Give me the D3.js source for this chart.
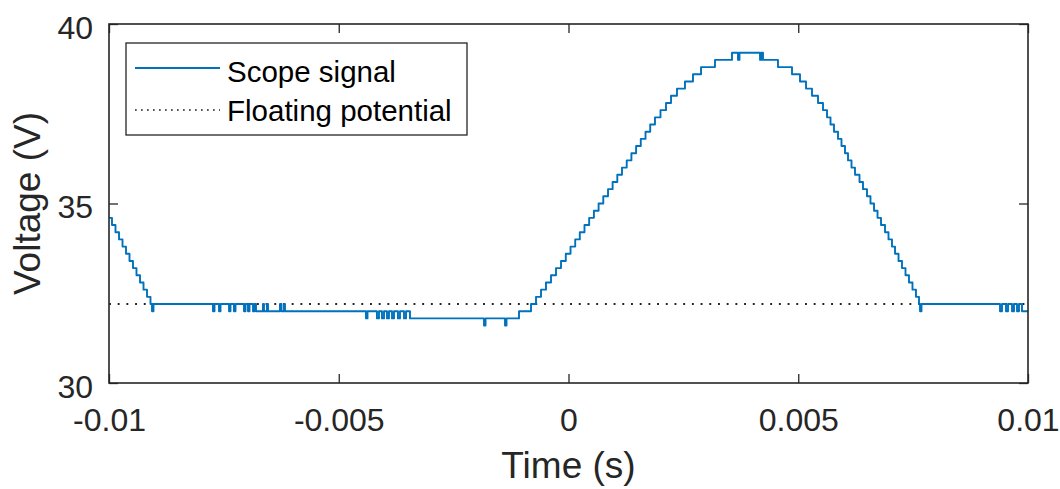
<!DOCTYPE html>
<html>
<head>
<meta charset="utf-8">
<script src="https://cdn.jsdelivr.net/npm/d3@7"></script>
<style>
  body { margin: 0; background: #fff; }
  text { font-family: "Liberation Sans", Arial, Helvetica, sans-serif; }
</style>
</head>
<body>
<svg id="chart" width="1060" height="489"></svg>
<script>
// Axis ticks and labels
const xTicks = [-0.01, -0.005, 0, 0.005, 0.01];
const xTickLabels = ["-0.01", "-0.005", "0", "0.005", "0.01"];
const yTicks = [30, 35, 40];
const yTickLabels = ["30", "35", "40"];

// Floating potential level (V)
const floatingPotential = 32.2;

// Scope trace: level changes of the digitised signal (time in ms, voltage in V)
const scopeTimeMs = [
  -10.000, -9.935, -9.859, -9.782, -9.706, -9.630, -9.554, -9.478, -9.402, -9.325,
  -9.249, -9.173, -9.097, -9.064, -9.032,
  -7.737, -7.704, -7.606, -7.573, -7.388, -7.356, -7.280, -7.247, -7.062, -7.029,
  -6.975, -6.942, -6.866, -6.834, -6.801, -6.649, -6.627, -6.562, -6.540, -6.279,
  -6.246, -6.192, -6.170,
  -4.407, -4.374, -4.168, -4.124, -4.059, -4.015, -3.950, -3.907, -3.841, -3.798,
  -3.711, -3.667, -3.580, -3.536, -3.450,
  -1.839, -1.806, -1.382, -1.349, -1.077,
  -0.816, -0.707, -0.598, -0.490, -0.381, -0.272, -0.163, -0.059, 0.044, 0.146,
  0.246, 0.348, 0.450, 0.553, 0.655, 0.757, 0.860, 0.960, 1.062, 1.164,
  1.267, 1.369, 1.471, 1.573, 1.676, 1.778, 1.882, 2.002, 2.122, 2.231,
  2.361, 2.535, 2.709, 2.884, 3.188, 3.558, 3.689, 3.721, 4.168, 4.200,
  4.233, 4.559, 4.864, 5.038, 5.169, 5.299, 5.430, 5.539, 5.626, 5.702,
  5.778, 5.865, 5.941, 6.017, 6.083, 6.159, 6.235, 6.333, 6.409, 6.496,
  6.572, 6.649, 6.725, 6.801, 6.888, 6.964, 7.040, 7.106, 7.182, 7.258,
  7.334, 7.410, 7.486, 7.562, 7.628, 7.650, 7.682,
  9.391, 9.434, 9.521, 9.565, 9.652, 9.695, 9.761, 9.804, 9.869, 10.000
];
const scopeVolts = [
  34.6, 34.4, 34.2, 34.0, 33.8, 33.6, 33.4, 33.2, 33.0, 32.8,
  32.6, 32.4, 32.2, 32.0, 32.2,
  32.0, 32.2, 32.0, 32.2, 32.0, 32.2, 32.0, 32.2, 32.0, 32.2,
  32.0, 32.2, 32.0, 32.2, 32.0, 32.2, 32.0, 32.2, 32.0, 32.2,
  32.0, 32.2, 32.0,
  31.8, 32.0, 31.8, 32.0, 31.8, 32.0, 31.8, 32.0, 31.8, 32.0,
  31.8, 32.0, 31.8, 32.0, 31.8,
  31.6, 31.8, 31.6, 31.8, 32.0,
  32.2, 32.4, 32.6, 32.8, 33.0, 33.2, 33.4, 33.6, 33.8, 34.0,
  34.2, 34.4, 34.6, 34.8, 35.0, 35.2, 35.4, 35.6, 35.8, 36.0,
  36.2, 36.4, 36.6, 36.8, 37.0, 37.2, 37.4, 37.6, 37.8, 38.0,
  38.2, 38.4, 38.6, 38.8, 39.0, 39.2, 39.0, 39.2, 39.0, 39.2,
  39.0, 38.8, 38.6, 38.4, 38.2, 38.0, 37.8, 37.6, 37.4, 37.2,
  37.0, 36.8, 36.6, 36.4, 36.2, 36.0, 35.8, 35.6, 35.4, 35.2,
  35.0, 34.8, 34.6, 34.4, 34.2, 34.0, 33.8, 33.6, 33.4, 33.2,
  33.0, 32.8, 32.6, 32.4, 32.2, 32.0, 32.2,
  32.0, 32.2, 32.0, 32.2, 32.0, 32.2, 32.0, 32.2, 32.0, 32.0
];

// Legend entries
const legendLabels = ["Scope signal", "Floating potential"];

const axisColor = "#262626";
const signalColor = "#0072BD";

const svg = d3.select("#chart");
const margin = { left: 109, right: 32, top: 24, bottom: 106 };
const W = 1060, H = 489;
const plotW = W - margin.left - margin.right;
const plotH = H - margin.top - margin.bottom;

const x = d3.scaleLinear().domain([-0.01, 0.01]).range([margin.left, margin.left + plotW]);
const y = d3.scaleLinear().domain([30, 40]).range([margin.top + plotH, margin.top]);

const points = scopeTimeMs.map((t, i) => ({ t: t / 1000, v: scopeVolts[i] }));

svg.append("defs").append("clipPath").attr("id", "plotClip")
  .append("rect")
  .attr("x", margin.left).attr("y", margin.top)
  .attr("width", plotW).attr("height", plotH);

// Floating potential reference line
svg.append("line")
  .attr("x1", x(-0.01)).attr("x2", x(0.01))
  .attr("y1", y(floatingPotential)).attr("y2", y(floatingPotential))
  .attr("stroke", "#222")
  .attr("stroke-width", 1.9)
  .attr("stroke-dasharray", "1.9 6.8");

// Scope signal trace
const line = d3.line()
  .x(d => x(d.t))
  .y(d => y(d.v))
  .curve(d3.curveStepAfter);

svg.append("path")
  .datum(points)
  .attr("clip-path", "url(#plotClip)")
  .attr("fill", "none")
  .attr("stroke", signalColor)
  .attr("stroke-width", 1.9)
  .attr("stroke-linejoin", "round")
  .attr("d", line);

// Axes: ticks point inward on all four sides
const tickLen = 9;
const tickFont = "32px";
function styleAxis(g) {
  g.selectAll(".domain").remove();
  g.selectAll(".tick line").attr("stroke", axisColor).attr("stroke-width", 1.3);
  g.selectAll(".tick text")
    .attr("fill", axisColor)
    .style("font-size", tickFont)
    .style("font-family", "'Liberation Sans', Arial, sans-serif");
}

const gx = svg.append("g")
  .attr("transform", `translate(0,${margin.top + plotH})`)
  .call(d3.axisBottom(x).tickValues(xTicks)
    .tickFormat((d, i) => xTickLabels[i])
    .tickSizeInner(-tickLen).tickSizeOuter(0).tickPadding(25));
styleAxis(gx);

const gxTop = svg.append("g")
  .attr("transform", `translate(0,${margin.top})`)
  .call(d3.axisTop(x).tickValues(xTicks).tickFormat("")
    .tickSizeInner(-tickLen).tickSizeOuter(0));
styleAxis(gxTop);

const gy = svg.append("g")
  .attr("transform", `translate(${margin.left},0)`)
  .call(d3.axisLeft(y).tickValues(yTicks)
    .tickFormat((d, i) => yTickLabels[i])
    .tickSizeInner(-tickLen).tickSizeOuter(0).tickPadding(16));
styleAxis(gy);
gy.selectAll(".tick text").attr("dy", "0.45em");

const gyRight = svg.append("g")
  .attr("transform", `translate(${margin.left + plotW},0)`)
  .call(d3.axisRight(y).tickValues(yTicks).tickFormat("")
    .tickSizeInner(-tickLen).tickSizeOuter(0));
styleAxis(gyRight);

// Axes box
svg.append("rect")
  .attr("x", margin.left).attr("y", margin.top)
  .attr("width", plotW).attr("height", plotH)
  .attr("fill", "none")
  .attr("stroke", axisColor)
  .attr("stroke-width", 1.6);

// Axis titles
svg.append("text")
  .attr("x", x(0)).attr("y", 478)
  .attr("text-anchor", "middle")
  .attr("fill", axisColor)
  .style("font-size", "37px")
  .text("Time (s)");

svg.append("text")
  .attr("transform", `translate(40,${y(35)}) rotate(-90)`)
  .attr("text-anchor", "middle")
  .attr("fill", axisColor)
  .style("font-size", "37px")
  .text("Voltage (V)");

// Legend
const legend = svg.append("g");
legend.append("rect")
  .attr("x", 126).attr("y", 43)
  .attr("width", 341).attr("height", 92)
  .attr("fill", "#fff")
  .attr("stroke", axisColor)
  .attr("stroke-width", 1.3);

legend.append("line")
  .attr("x1", 135).attr("x2", 220)
  .attr("y1", 68).attr("y2", 68)
  .attr("stroke", signalColor).attr("stroke-width", 1.9);

legend.append("line")
  .attr("x1", 135).attr("x2", 220)
  .attr("y1", 110).attr("y2", 110)
  .attr("stroke", "#222").attr("stroke-width", 1.7)
  .attr("stroke-dasharray", "1.7 4.3");

legend.selectAll("text.entry")
  .data(legendLabels)
  .join("text")
  .attr("class", "entry")
  .attr("x", 227)
  .attr("y", (d, i) => 82 + i * 39)
  .attr("fill", "#000")
  .style("font-size", "29.5px")
  .text(d => d);
</script>
</body>
</html>
